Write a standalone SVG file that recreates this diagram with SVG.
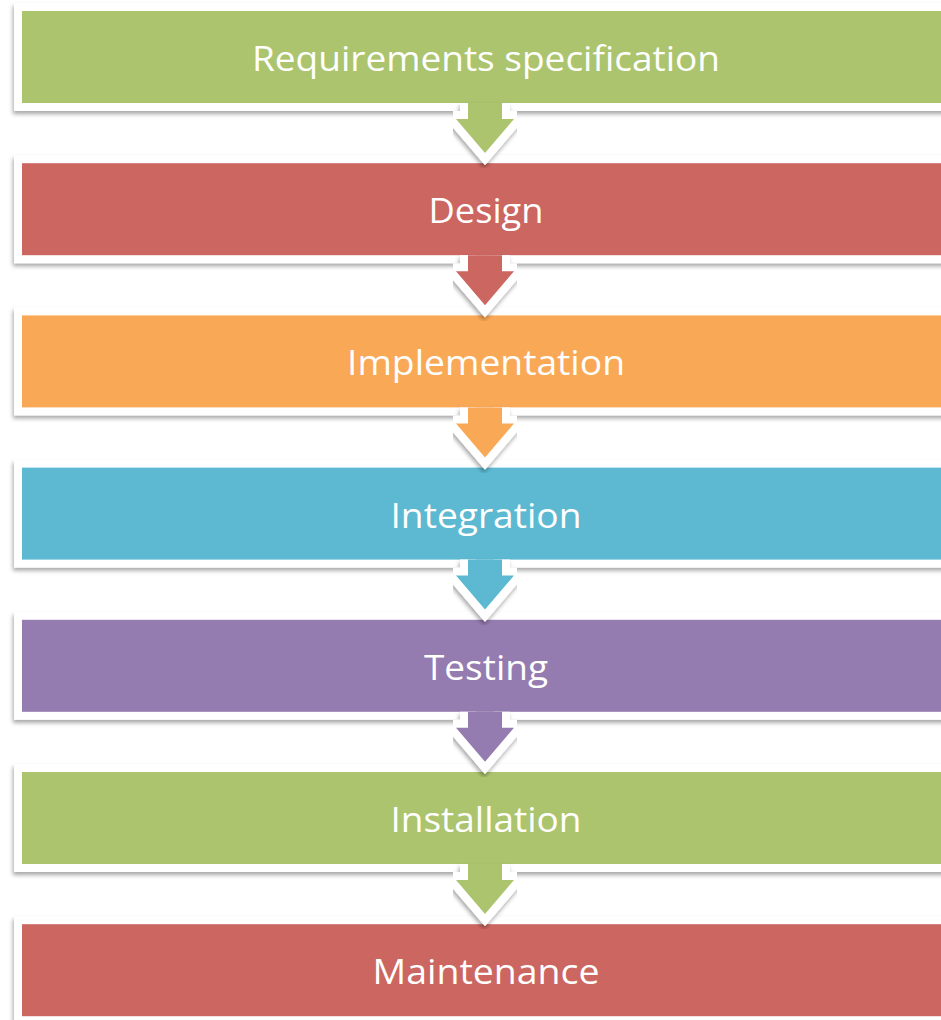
<svg xmlns="http://www.w3.org/2000/svg" width="941" height="1020" viewBox="0 0 941 1020">
  <defs>
    <filter id="shadow" x="-5%" y="-20%" width="110%" height="150%">
      <feDropShadow dx="-1" dy="3" stdDeviation="2" flood-color="#000" flood-opacity="0.35"/>
    </filter>
    <style>
      .stage { stroke: #fff; stroke-width: 8; filter: url(#shadow); }
      .label { font-family: "Open Sans", "Liberation Sans", sans-serif; font-size: 35px; fill: #fff; text-anchor: middle; }
      .arrow { stroke: #fff; stroke-width: 16; stroke-linejoin: miter; paint-order: stroke; filter: url(#shadow); }
      .green { fill: #abc46d; }
      .red { fill: #cc6660; }
      .orange { fill: #f9a857; }
      .blue { fill: #5bb9d1; }
      .purple { fill: #947cb0; }
    </style>
  </defs>

  <!-- stage boxes: coloured band with white frame, bleeding off the right edge -->
  <g id="requirements">
    <rect class="stage green" x="18" y="7" width="1000" height="100"/>
    <text class="label" x="486" y="71" textLength="468" lengthAdjust="spacingAndGlyphs">Requirements specification</text>
  </g>
  <g id="design">
    <rect class="stage red" x="18" y="159.2" width="1000" height="100"/>
    <text class="label" x="486" y="223.2" textLength="115" lengthAdjust="spacingAndGlyphs">Design</text>
  </g>
  <g id="implementation">
    <rect class="stage orange" x="18" y="311.4" width="1000" height="100"/>
    <text class="label" x="486" y="375.4" textLength="278" lengthAdjust="spacingAndGlyphs">Implementation</text>
  </g>
  <g id="integration">
    <rect class="stage blue" x="18" y="463.6" width="1000" height="100"/>
    <text class="label" x="486" y="527.6" textLength="191" lengthAdjust="spacingAndGlyphs">Integration</text>
  </g>
  <g id="testing">
    <rect class="stage purple" x="18" y="615.8" width="1000" height="100"/>
    <text class="label" x="486" y="679.8" textLength="124" lengthAdjust="spacingAndGlyphs">Testing</text>
  </g>
  <g id="installation">
    <rect class="stage green" x="18" y="768" width="1000" height="100"/>
    <text class="label" x="486" y="832" textLength="191" lengthAdjust="spacingAndGlyphs">Installation</text>
  </g>
  <g id="maintenance">
    <rect class="stage red" x="18" y="920.2" width="1000" height="100"/>
    <text class="label" x="486" y="984.2" textLength="227" lengthAdjust="spacingAndGlyphs">Maintenance</text>
  </g>

  <!-- down arrows between stages; open paths so the stem joins the band above -->
  <g id="connectors">
    <path class="arrow green" d="M468,103 V119 H456 L485,153 L514,119 H502 V103"/>
    <path class="arrow red" transform="translate(0,152.2)" d="M468,103 V119 H456 L485,153 L514,119 H502 V103"/>
    <path class="arrow orange" transform="translate(0,304.4)" d="M468,103 V119 H456 L485,153 L514,119 H502 V103"/>
    <path class="arrow blue" transform="translate(0,456.6)" d="M468,103 V119 H456 L485,153 L514,119 H502 V103"/>
    <path class="arrow purple" transform="translate(0,608.8)" d="M468,103 V119 H456 L485,153 L514,119 H502 V103"/>
    <path class="arrow green" transform="translate(0,761)" d="M468,103 V119 H456 L485,153 L514,119 H502 V103"/>
  </g>
</svg>
